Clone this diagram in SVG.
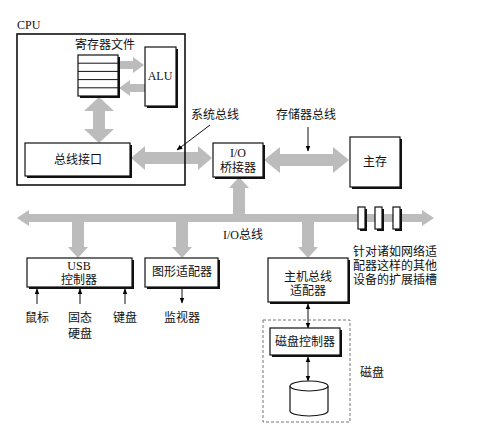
<svg xmlns="http://www.w3.org/2000/svg" width="499" height="430" viewBox="0 0 499 430">
<defs>
<marker id="ah" viewBox="0 0 10 10" refX="9" refY="5" markerWidth="6" markerHeight="6" orient="auto-start-reverse" markerUnits="userSpaceOnUse"><path d="M0,1 L10,5 L0,9 z" fill="#000"/></marker>
</defs>
<style>
text{font-family:"Liberation Serif","Noto Sans CJK SC",serif;font-size:12px;fill:#111;}
.c{text-anchor:middle;}
.box{fill:#fff;stroke:#111;stroke-width:1.2;}
.sh{fill:#111;}
.big{fill:#bcbcbc;stroke:none;}
.thin{stroke:#111;stroke-width:1;fill:none;}
</style>
<rect width="499" height="430" fill="#fff"/>
<g id="connectors">
<polygon class="big" points="131,158 145,146 145,152 198,152 198,146 212,158 198,170 198,164 145,164 145,170"/>
<polygon class="big" points="264,160 280,147 280,154 333,154 333,147 349,160 333,173 333,166 280,166 280,173"/>
<polygon class="big" points="99,97 84,111 93,111 93,129 84,129 99,143 114,129 105,129 105,111 114,111"/>
<polygon class="big" points="118,61 133,61 133,57 144,65 133,73 133,69 118,69"/>
<polygon class="big" points="145,84 130,84 130,80 119,88 130,96 130,92 145,92"/>
<polygon class="big" points="17,218 29,210 29,214 422,214 422,210 434,218 422,226 422,222 29,222 29,226"/>
<polygon class="big" points="239,177 249,188 245,188 245,215 233,215 233,188 229,188"/>
<polygon class="big" points="72,221 84,221 84,247 88,247 78,258 68,247 72,247"/>
<polygon class="big" points="176,221 188,221 188,247 192,247 182,258 172,247 176,247"/>
<polygon class="big" points="302,221 314,221 314,247 318,247 308,258 298,247 302,247"/>
<line class="thin" x1="210" y1="125" x2="177" y2="150" marker-end="url(#ah)"/>
<line class="thin" x1="308" y1="127" x2="308" y2="151" marker-end="url(#ah)"/>
<line class="thin" x1="37" y1="304" x2="37" y2="289" marker-end="url(#ah)"/>
<line class="thin" x1="80" y1="304" x2="80" y2="289" marker-end="url(#ah)"/>
<line class="thin" x1="125" y1="304" x2="125" y2="289" marker-end="url(#ah)"/>
<line class="thin" x1="182" y1="289" x2="182" y2="303" marker-end="url(#ah)"/>
<line class="thin" x1="308" y1="304" x2="308" y2="328" marker-start="url(#ah)" marker-end="url(#ah)"/>
<line class="thin" x1="308" y1="357" x2="308" y2="381" marker-start="url(#ah)" marker-end="url(#ah)"/>
</g>
<g id="cpu">
<rect x="17" y="34" width="168" height="151" fill="none" stroke="#111" stroke-width="1.6"/>
<text x="17" y="29">CPU</text>
</g>
<g id="regfile">
<text class="c" x="105" y="49">寄存器文件</text>
<rect x="80" y="57" width="40" height="41" class="sh" fill="#888"/>
<rect x="78" y="55" width="40" height="41" class="box"/>
<path class="thin" d="M78,63.2H118M78,71.4H118M78,79.6H118M78,87.8H118"/>
</g>
<g id="alu">
<rect x="147" y="49" width="31" height="59" class="sh"/>
<rect x="145" y="47" width="31" height="59" class="box"/>
<text class="c" x="160" y="80">ALU</text>
</g>
<g id="businterface">
<rect x="27" y="145" width="105" height="33" class="sh"/>
<rect x="25" y="143" width="105" height="33" class="box"/>
<text class="c" x="78" y="164">总线接口</text>
</g>
<g id="sysbus-label"><text class="c" x="215" y="119">系统总线</text></g>
<g id="iobridge">
<rect x="215" y="145" width="50" height="34" class="sh"/>
<rect x="213" y="143" width="50" height="34" class="box"/>
<text class="c" x="238" y="157">I/O</text>
<text class="c" x="238" y="172">桥接器</text>
</g>
<g id="membus-label"><text class="c" x="306" y="119">存储器总线</text></g>
<g id="mainmem">
<rect x="352" y="139" width="50" height="50" class="sh"/>
<rect x="350" y="137" width="50" height="50" class="box"/>
<text class="c" x="375" y="166">主存</text>
</g>
<g id="iobus-label"><text class="c" x="243" y="239">I/O总线</text></g>
<g id="slots">
<rect x="360" y="209" width="7" height="22" class="sh"/>
<rect x="358" y="207" width="7" height="22" class="box"/>
<rect x="377" y="209" width="7" height="22" class="sh"/>
<rect x="375" y="207" width="7" height="22" class="box"/>
<rect x="395" y="209" width="7" height="22" class="sh"/>
<rect x="393" y="207" width="7" height="22" class="box"/>
<text x="353" y="256">针对诸如网络适</text>
<text x="353" y="270">配器这样的其他</text>
<text x="353" y="284">设备的扩展插槽</text>
</g>
<g id="usb">
<rect x="29" y="260" width="105" height="29" class="sh"/>
<rect x="27" y="258" width="105" height="29" class="box"/>
<text class="c" x="79" y="270">USB</text>
<text class="c" x="79" y="284">控制器</text>
</g>
<g id="mouse"><text class="c" x="37" y="322">鼠标</text></g>
<g id="ssd"><text class="c" x="80" y="322">固态</text><text class="c" x="80" y="338">硬盘</text></g>
<g id="keyboard"><text class="c" x="125" y="322">键盘</text></g>
<g id="graphics">
<rect x="147" y="260" width="73" height="29" class="sh"/>
<rect x="145" y="258" width="73" height="29" class="box"/>
<text class="c" x="182" y="276">图形适配器</text>
</g>
<g id="monitor"><text class="c" x="182" y="322">监视器</text></g>
<g id="hostadapter">
<rect x="270" y="260" width="80" height="44" class="sh"/>
<rect x="268" y="258" width="80" height="44" class="box"/>
<text class="c" x="308" y="281">主机总线</text>
<text class="c" x="308" y="295">适配器</text>
</g>
<g id="disk">
<rect x="263" y="320" width="87" height="102" fill="none" stroke="#777" stroke-width="1" stroke-dasharray="3,2"/>
<text x="360" y="377">磁盘</text>
</g>
<g id="diskctl">
<rect x="272" y="330" width="70" height="27" class="sh"/>
<rect x="270" y="328" width="70" height="27" class="box"/>
<text class="c" x="305" y="346">磁盘控制器</text>
</g>
<g id="platter">
<path d="M290,386 V411 A19,5 0 0 0 328,411 V386" fill="#fff" stroke="#111" stroke-width="1.2"/>
<ellipse cx="309" cy="386" rx="19" ry="5" fill="#fff" stroke="#111" stroke-width="1.2"/>
</g>
</svg>
